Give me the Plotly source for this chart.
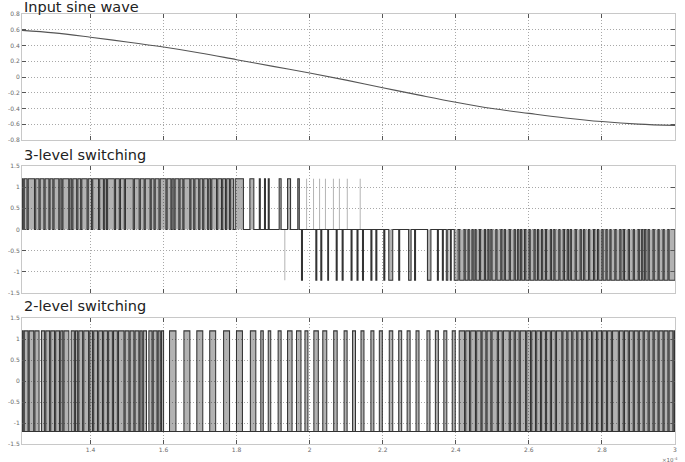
import plotly.graph_objects as go

# ---------------- data (time axis in units of 1e-4 s) ----------------
t_start, t_end = 1.2126, 3.0
level = 1.2

sine_t = [1.2126, 1.3, 1.4, 1.5, 1.6, 1.7, 1.8, 1.9, 2.0, 2.1, 2.2, 2.3, 2.4,
          2.5, 2.6, 2.7, 2.8, 2.9, 3.0]
sine_v = [0.592, 0.56, 0.505, 0.445, 0.38, 0.305, 0.22, 0.135, 0.05, -0.04,
          -0.137, -0.23, -0.32, -0.40, -0.462, -0.52, -0.566, -0.598, -0.615]

# 3-level output: positive pulses (rise, fall)
p3_pos = [(1.2126, 1.2156), (1.2188, 1.2264), (1.2297, 1.2468), (1.2501, 1.2590),
          (1.2623, 1.2726), (1.2759, 1.2862), (1.2894, 1.2970), (1.3003, 1.3133),
          (1.3166, 1.3215), (1.3247, 1.3405), (1.3437, 1.3486), (1.3519, 1.3622),
          (1.3655, 1.3731), (1.3763, 1.3907), (1.3940, 1.4030), (1.4062, 1.4220),
          (1.4252, 1.4355), (1.4388, 1.4437), (1.4469, 1.4654), (1.4687, 1.4790),
          (1.4822, 1.4926), (1.4958, 1.5170), (1.5203, 1.5333), (1.5366, 1.5469),
          (1.5501, 1.5632), (1.5664, 1.5740), (1.5773, 1.5876), (1.5909, 1.6066),
          (1.6099, 1.6202), (1.6234, 1.6283), (1.6316, 1.6419), (1.6452, 1.6528),
          (1.6560, 1.6718), (1.6750, 1.6826), (1.6859, 1.6962), (1.6995, 1.7071),
          (1.7103, 1.7207), (1.7239, 1.7288), (1.7321, 1.7451), (1.7484, 1.7587),
          (1.7619, 1.7695), (1.7728, 1.7804), (1.7837, 1.7913), (1.7962, 1.8187),
          (1.8363, 1.8472), (1.8621, 1.8649), (1.8763, 1.8790), (1.8866, 1.8893),
          (1.9165, 1.9219), (1.9395, 1.9477), (1.9675, 1.9716)]
# very short isolated positive pulses
p3_pos_short = [1.9916, 2.0106, 2.0271, 2.0432, 2.0650, 2.0814, 2.1030, 2.1383]

# 3-level output: negative pulses (rise, fall)
p3_neg = [(1.9776, 1.9803), (2.0169, 2.0196), (2.0305, 2.0332), (2.0495, 2.0517),
          (2.0726, 2.0753), (2.0889, 2.0916), (2.1133, 2.1160), (2.1296, 2.1323),
          (2.1446, 2.1473), (2.1676, 2.1704), (2.1812, 2.1839), (2.2029, 2.2057),
          (2.2165, 2.2274), (2.2437, 2.2464), (2.2708, 2.2776), (2.2871, 2.2898),
          (2.3224, 2.3319), (2.3496, 2.3523), (2.3632, 2.3659), (2.3740, 2.3781),
          (2.3849, 2.3876), (2.3957, 2.4066), (2.4106, 2.4226), (2.4259, 2.4335),
          (2.4367, 2.4443), (2.4476, 2.4525), (2.4557, 2.4647), (2.4679, 2.4783),
          (2.4815, 2.4878), (2.4910, 2.4959), (2.4992, 2.5095), (2.5128, 2.5231),
          (2.5263, 2.5326), (2.5358, 2.5462), (2.5494, 2.5597), (2.5630, 2.5692),
          (2.5725, 2.5774), (2.5806, 2.5882), (2.5915, 2.6005), (2.6037, 2.6140),
          (2.6173, 2.6235), (2.6268, 2.6344), (2.6377, 2.6453), (2.6485, 2.6588),
          (2.6621, 2.6683), (2.6716, 2.6819), (2.6852, 2.6941), (2.6974, 2.7050),
          (2.7083, 2.7132), (2.7164, 2.7267), (2.7300, 2.7403), (2.7436, 2.7498),
          (2.7531, 2.7634), (2.7666, 2.7770), (2.7802, 2.7878), (2.7911, 2.8000),
          (2.8033, 2.8109), (2.8142, 2.8218), (2.8250, 2.8353), (2.8386, 2.8489),
          (2.8522, 2.8584), (2.8617, 2.8720), (2.8753, 2.8856), (2.8888, 2.8992),
          (2.9024, 2.9087), (2.9119, 2.9168), (2.9201, 2.9263), (2.9296, 2.9399),
          (2.9432, 2.9535), (2.9567, 2.9671), (2.9703, 2.9806), (2.9839, 3.0)]
p3_neg_short = [1.9320]

# 2-level output: high pulses (rise, fall); low level otherwise
p2_high = [(1.2126, 1.2156), (1.2188, 1.2292), (1.2324, 1.2446), (1.2479, 1.2593),
           (1.2658, 1.2745), (1.2778, 1.2881), (1.2913, 1.3017), (1.3049, 1.3152),
           (1.3185, 1.3242), (1.3275, 1.3408), (1.3473, 1.3560), (1.3592, 1.3649),
           (1.3682, 1.3785), (1.3818, 1.3948), (1.3981, 1.4057), (1.4089, 1.4192),
           (1.4225, 1.4328), (1.4361, 1.4464), (1.4497, 1.4600), (1.4632, 1.4736),
           (1.4768, 1.4917), (1.4950, 1.5053), (1.5086, 1.5189), (1.5222, 1.5325),
           (1.5357, 1.5414), (1.5447, 1.5534), (1.5599, 1.5686), (1.5719, 1.5822),
           (1.5854, 1.5911), (1.5944, 1.6001), (1.6164, 1.6340), (1.6558, 1.6721),
           (1.6911, 1.7074), (1.7264, 1.7427), (1.7644, 1.7807), (1.7997, 1.8160),
           (1.8377, 1.8526), (1.8662, 1.8730), (1.8866, 1.8934), (1.9137, 1.9219),
           (1.9395, 1.9518), (1.9640, 1.9762), (1.9871, 1.9952), (2.0115, 2.0237),
           (2.0359, 2.0468), (2.0658, 2.0753), (2.0943, 2.1025), (2.1174, 2.1255),
           (2.1405, 2.1486), (2.1676, 2.1758), (2.1907, 2.1989), (2.2179, 2.2274),
           (2.2437, 2.2518), (2.2668, 2.2749), (2.2912, 2.2993), (2.3211, 2.3292),
           (2.3441, 2.3523), (2.3672, 2.3754), (2.3903, 2.3985), (2.4093, 2.4239),
           (2.4272, 2.4375), (2.4408, 2.4538), (2.4571, 2.4688), (2.4720, 2.4823),
           (2.4856, 2.4959), (2.4992, 2.5136), (2.5168, 2.5271), (2.5304, 2.5462),
           (2.5494, 2.5597), (2.5630, 2.5733), (2.5766, 2.5910), (2.5942, 2.6045),
           (2.6078, 2.6181), (2.6214, 2.6317), (2.6349, 2.6453), (2.6485, 2.6588),
           (2.6621, 2.6724), (2.6757, 2.6901), (2.6933, 2.7036), (2.7069, 2.7172),
           (2.7205, 2.7308), (2.7341, 2.7444), (2.7476, 2.7580), (2.7612, 2.7715),
           (2.7748, 2.7851), (2.7884, 2.7987), (2.8020, 2.8123), (2.8155, 2.8258),
           (2.8291, 2.8449), (2.8481, 2.8584), (2.8617, 2.8720), (2.8753, 2.8856),
           (2.8888, 2.8992), (2.9024, 2.9127), (2.9160, 2.9263), (2.9296, 2.9399),
           (2.9432, 2.9535), (2.9567, 2.9671), (2.9703, 2.9806), (2.9839, 2.9942),
           (2.9975, 3.0)]

x_ticks = [1.4, 1.6, 1.8, 2.0, 2.2, 2.4, 2.6, 2.8, 3.0]
x_ticklabels = ["1.4", "1.6", "1.8", "2", "2.2", "2.4", "2.6", "2.8", "3"]
y1_ticks = [0.8, 0.6, 0.4, 0.2, 0, -0.2, -0.4, -0.6, -0.8]
y1_ticklabels = ["0.8", "0.6", "0.4", "0.2", "0", "-0.2", "-0.4", "-0.6", "-0.8"]
y2_ticks = [1.5, 1, 0.5, 0, -0.5, -1, -1.5]
y2_ticklabels = ["1.5", "1", "0.5", "0", "-0.5", "-1", "-1.5"]
titles = ["Input sine wave", "3-level switching", "2-level switching"]

# ---------------- build paths ----------------
def step_path(pulses, lo, t0, t1):
    xs, ys = [t0], [lo]
    for r, f, hi in pulses:
        xs += [r, r, f, f]
        ys += [lo, hi, hi, lo]
    xs.append(t1)
    ys.append(lo)
    return xs, ys

pulses3 = sorted([(r, f, level) for r, f in p3_pos] +
                 [(r, f, -level) for r, f in p3_neg])
x3, y3 = step_path(pulses3, 0.0, t_start, t_end)
x2, y2 = step_path([(r, f, level) for r, f in p2_high], -level, t_start, t_end)

def spikes(times, hi):
    xs, ys = [], []
    for t in times:
        xs += [t, t, None]
        ys += [0, hi, None]
    return xs, ys

sx_p, sy_p = spikes(p3_pos_short, level)
sx_n, sy_n = spikes(p3_neg_short, -level)

LINE = "#333333"
FILL = "rgba(0,0,0,0.30)"
LW = 1.05

fig = go.Figure()
fig.add_trace(go.Scatter(x=sine_t, y=sine_v, mode="lines", line=dict(color="#555", width=1.1,
                         shape="spline"), xaxis="x", yaxis="y", hoverinfo="skip"))
fig.add_trace(go.Scatter(x=sx_p + sx_n, y=sy_p + sy_n, mode="lines",
                         line=dict(color="#b4b4b4", width=1), xaxis="x2", yaxis="y2"))
fig.add_trace(go.Scatter(x=x3, y=y3, mode="lines", line=dict(color=LINE, width=LW),
                         fill="tozeroy", fillcolor=FILL, xaxis="x2", yaxis="y2"))
fig.add_trace(go.Scatter(x=[t_start, t_end], y=[-level, -level], mode="lines",
                         line=dict(color=LINE, width=LW), xaxis="x3", yaxis="y3"))
fig.add_trace(go.Scatter(x=x2, y=y2, mode="lines", line=dict(color=LINE, width=LW),
                         fill="tonexty", fillcolor=FILL, xaxis="x3", yaxis="y3"))

tickfont = dict(family="DejaVu Sans", size=6, color="#6a6a6a")
common = dict(showline=True, linecolor="#c8c8c8", linewidth=1, mirror="ticks",
              ticks="inside", ticklen=4, tickcolor="#555", tickwidth=1,
              showgrid=True, gridcolor="#a8a8a8", griddash="1px,2px", gridwidth=1,
              zeroline=False, tickfont=tickfont)

def xax(anchor, labels):
    return dict(common, range=[t_start, t_end], tickvals=x_ticks, ticktext=x_ticklabels,
                showticklabels=labels, anchor=anchor, domain=[0, 1])

def yax(anchor, domain, rng, tv, tt):
    return dict(common, range=rng, tickvals=tv, ticktext=tt, anchor=anchor, domain=domain)

fig.update_layout(
    width=685, height=462, autosize=False,
    margin=dict(l=18, r=8, t=14, b=18),
    paper_bgcolor="white", plot_bgcolor="white", showlegend=False,
    xaxis=xax("y", False), xaxis2=xax("y2", False), xaxis3=xax("y3", True),
    yaxis=yax("x", [0.707, 1.0], [-0.8, 0.8], y1_ticks, y1_ticklabels),
    yaxis2=yax("x2", [0.3512, 0.6465], [-1.5, 1.5], y2_ticks, y2_ticklabels),
    yaxis3=yax("x3", [0.0, 0.2923], [-1.5, 1.5], y2_ticks, y2_ticklabels),
)

title_y = [0.992, 0.6486, 0.2984]
for txt, ty in zip(titles, title_y):
    fig.add_annotation(text=txt, xref="paper", yref="paper", x=0.0, y=ty,
                       xanchor="left", yanchor="bottom", showarrow=False,
                       font=dict(family="DejaVu Sans", size=14.5, color="#222"))
fig.add_annotation(text="×10<sup>-4</sup>", xref="paper", yref="paper", x=1.008, y=-0.035,
                   xanchor="right", yanchor="middle", showarrow=False,
                   font=dict(family="DejaVu Sans", size=5.5, color="#666"))

fig.write_html("out.html")
